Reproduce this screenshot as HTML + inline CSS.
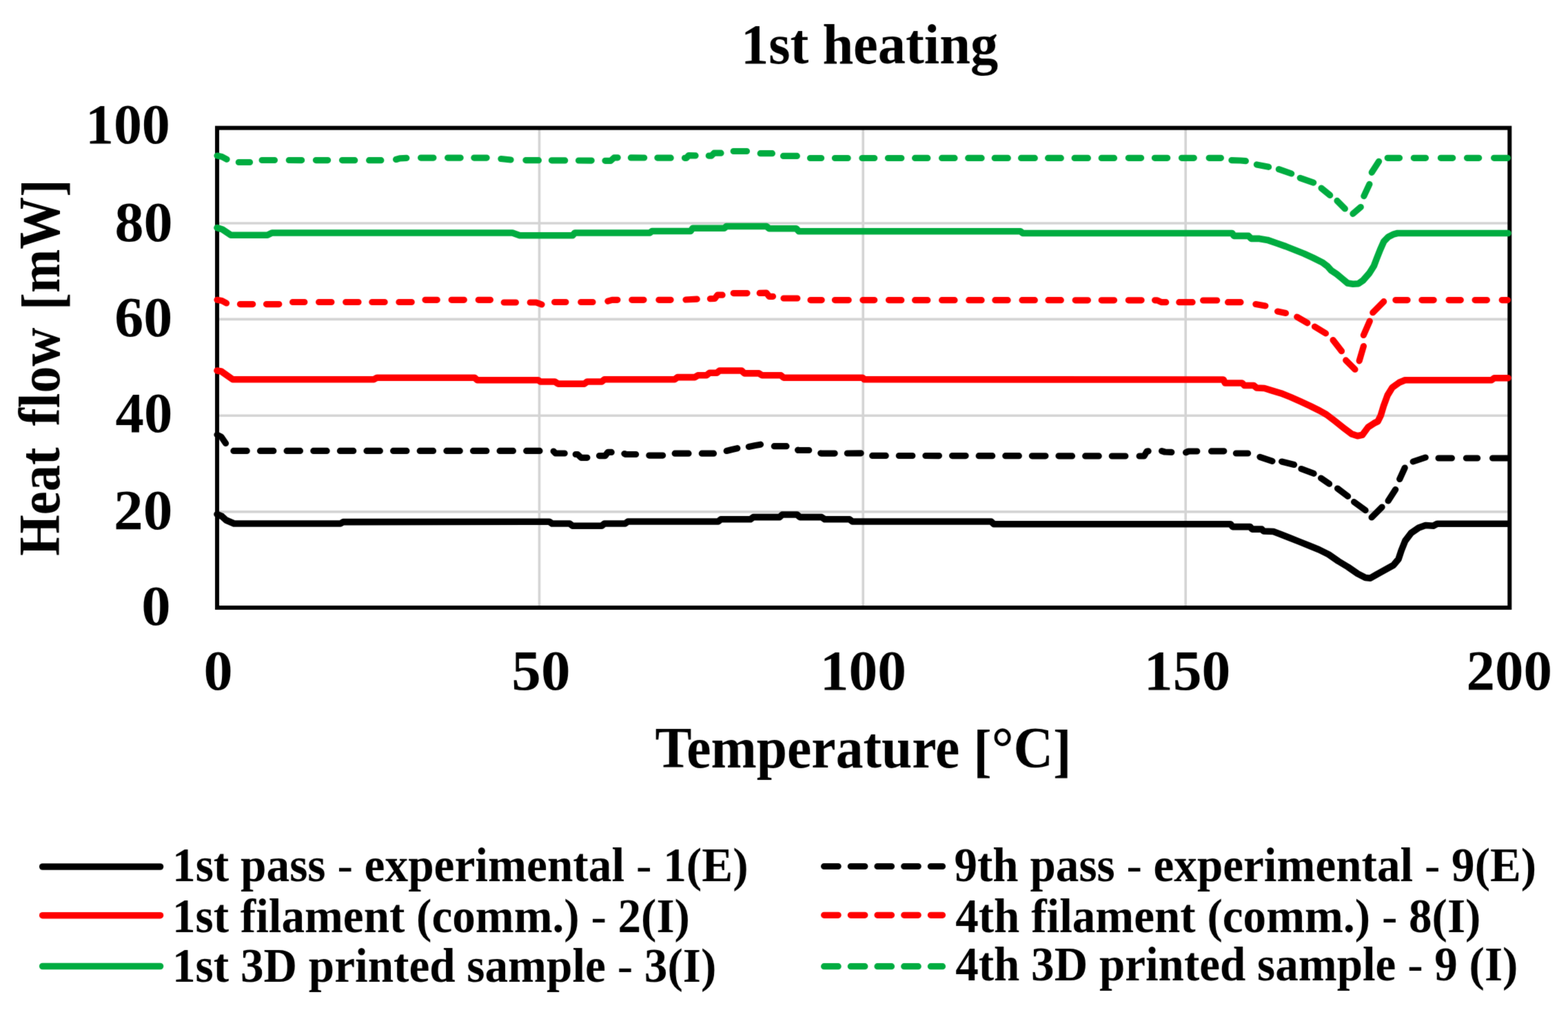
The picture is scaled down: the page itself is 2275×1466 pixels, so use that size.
<!DOCTYPE html><html><head><meta charset="utf-8"><title>1st heating</title><style>html,body{margin:0;padding:0;background:#fff;}svg{display:block;}text{font-family:"Liberation Serif", "Times New Roman", serif;font-weight:bold;fill:#000;}</style></head><body>
<svg width="2275" height="1466" viewBox="0 0 2275 1466">
<defs><filter id="soft" x="0" y="0" width="2275" height="1466" filterUnits="userSpaceOnUse" color-interpolation-filters="sRGB"><feConvolveMatrix order="3" kernelMatrix="0.0144 0.0912 0.0144 0.0912 0.5776 0.0912 0.0144 0.0912 0.0144" divisor="1" edgeMode="duplicate"/></filter></defs>
<rect x="0" y="0" width="2275" height="1466" fill="#fff"/>
<g filter="url(#soft)">
<rect x="0" y="0" width="2275" height="1466" fill="#fff"/>
<g stroke="#d4d4d4" stroke-width="3.6" fill="none"><line x1="318" y1="324" x2="2188" y2="324"/><line x1="318" y1="463.4" x2="2188" y2="463.4"/><line x1="318" y1="603.2" x2="2188" y2="603.2"/><line x1="318" y1="742.9" x2="2188" y2="742.9"/><line x1="782.5" y1="188" x2="782.5" y2="880"/><line x1="1252.2" y1="188" x2="1252.2" y2="880"/><line x1="1720.2" y1="188" x2="1720.2" y2="880"/></g>
<rect x="315" y="185.7" width="1875.3" height="696.3" fill="none" stroke="#000" stroke-width="6"/>
<g fill="none" stroke-width="9.6" stroke-linejoin="round">
<polyline points="315.0,746.4 322.0,749.5 328.0,755.0 339.6,760.0 494.0,760.0 498.0,757.6 797.0,757.2 801.0,760.0 826.5,760.0 830.7,763.3 873.0,763.3 877.0,760.0 907.0,760.0 911.0,757.0 1042.0,757.0 1046.0,753.8 1088.7,753.8 1093.0,750.6 1131.0,750.6 1135.0,747.0 1156.4,747.0 1160.6,750.6 1192.0,750.6 1196.6,753.8 1232.5,753.8 1236.7,757.0 1438.0,757.0 1442.0,760.8 1785.4,760.8 1788.4,764.6 1813.8,764.6 1816.6,768.1 1830.6,768.1 1833.4,771.0 1847.5,771.5 1857.4,775.2 1871.4,780.8 1885.5,786.4 1899.5,792.0 1913.6,797.7 1927.7,804.7 1941.7,814.5 1955.8,823.0 1969.9,832.8 1981.1,838.5 1988.2,839.2 1998.0,833.5 2012.0,825.8 2021.9,820.2 2029.0,811.7 2033.2,799.0 2038.8,785.0 2047.2,773.8 2058.5,766.0 2068.3,762.5 2079.6,763.2 2085.2,760.2 2188.0,760.2" stroke="#000" stroke-linecap="round"/>
<polyline points="315.0,538.0 321.0,539.0 337.5,550.7 542.6,550.7 547.0,548.2 688.5,548.2 692.7,551.8 781.0,551.8 784.0,554.0 805.0,554.0 809.6,557.1 847.7,557.1 852.0,554.0 873.0,554.0 877.0,550.8 978.8,550.8 983.0,547.6 1008.0,547.6 1012.6,544.8 1025.0,544.8 1029.5,541.2 1040.0,541.2 1044.0,538.0 1076.0,538.0 1080.0,541.9 1101.0,541.9 1105.6,544.8 1133.0,544.8 1137.0,548.2 1251.6,548.2 1254.0,550.8 1775.0,551.0 1777.5,556.0 1802.2,556.0 1805.5,559.5 1819.0,559.5 1823.3,563.0 1834.5,563.5 1844.4,566.6 1858.5,570.8 1872.5,576.4 1886.6,582.7 1900.6,589.1 1914.7,596.1 1924.6,601.7 1935.8,610.2 1949.9,621.4 1961.1,629.9 1969.6,632.7 1976.6,631.3 1985.0,620.0 1993.5,614.4 1999.1,611.6 2003.3,603.1 2007.5,589.1 2013.2,573.6 2020.2,562.3 2030.0,555.3 2038.5,551.8 2164.0,551.8 2168.0,548.7 2188.0,548.7" stroke="#FF0000" stroke-linecap="round"/>
<polyline points="315.0,330.6 322.7,333.0 335.0,341.2 388.0,341.2 394.6,338.0 743.5,338.0 754.0,341.8 830.7,341.8 834.0,338.0 942.8,338.0 946.0,335.5 1002.0,335.5 1005.0,331.3 1050.7,331.3 1054.0,328.5 1112.0,328.5 1116.0,331.7 1155.3,331.7 1159.0,335.7 1480.5,335.7 1484.0,338.5 1787.7,338.5 1790.3,342.4 1811.4,342.4 1815.4,346.4 1827.3,346.4 1839.0,348.4 1852.3,353.0 1865.5,357.6 1878.7,362.9 1891.9,368.1 1905.0,374.1 1918.2,380.7 1926.2,386.6 1931.4,392.5 1939.3,397.8 1947.3,404.4 1955.2,411.0 1963.0,412.3 1971.0,411.7 1977.6,407.0 1986.8,396.5 1993.4,386.0 1997.4,375.4 2002.6,362.2 2007.9,350.3 2014.5,343.7 2022.4,339.8 2027.7,338.5 2188.0,338.5" stroke="#00AC40" stroke-linecap="round"/>
<path d="M315.0,631.0 L321.0,634.0 L327.5,643.5 M338.9,654.4 L358.2,654.4 M377.5,654.4 L396.8,654.4 M416.1,654.4 L435.4,654.4 M454.8,654.4 L474.1,654.4 M493.4,654.4 L512.7,654.4 M532.0,654.4 L551.3,654.4 M570.6,654.4 L589.9,654.4 M609.2,654.4 L628.5,654.4 M647.9,654.4 L667.2,654.4 M686.5,654.4 L705.8,654.4 M725.1,654.4 L744.4,654.4 M763.7,654.4 L783.0,654.4 M803.1,655.1 L806.0,658.0 L819.2,658.0 M835.2,659.5 L838.0,659.5 L843.0,664.3 L851.9,664.3 M869.5,661.6 L878.0,661.6 L882.0,656.4 L887.2,656.4 M905.9,658.5 L908.0,659.5 L922.6,659.5 M941.8,661.1 L961.6,661.1 M979.2,658.2 L999.0,658.2 M1018.3,658.2 L1035.5,658.2 M1054.2,654.5 L1062.0,652.5 L1069.8,650.7 M1086.4,648.4 L1096.0,646.5 L1103.5,645.2 M1123.3,647.7 L1141.0,647.7 M1157.6,653.2 L1158.0,653.5 L1173.7,653.5 M1190.8,657.8 L1192.0,658.2 L1211.1,658.1 M1229.3,658.0 L1249.1,657.8 M1265.7,661.4 L1285.2,661.4 M1304.3,661.5 L1323.8,661.5 M1342.9,661.5 L1362.4,661.6 M1381.6,661.6 L1401.1,661.6 M1420.2,661.7 L1439.7,661.7 M1458.8,661.7 L1478.3,661.7 M1497.4,661.8 L1516.9,661.8 M1536.0,661.8 L1555.5,661.9 M1574.7,661.9 L1594.2,661.9 M1613.3,662.0 L1632.8,662.0 M1653.1,662.0 L1660.0,662.0 L1664.0,655.0 L1666.1,654.8 M1685.6,654.6 L1690.0,656.0 L1699.8,656.3 M1720.6,656.8 L1724.5,655.0 L1736.8,655.0 M1757.6,654.9 L1775.8,654.8 M1793.4,658.0 L1810.6,658.0 M1828.0,663.3 L1846.0,669.3 M1859.6,670.0 L1877.6,674.5 M1888.0,680.5 L1906.1,687.3 M1916.6,694.0 L1928.6,702.3 M1940.6,709.0 L1955.6,720.3 M1964.6,728.6 L1981.1,740.6 M1990.1,751.0 L2005.1,736.0 M2014.1,727.0 L2024.7,710.5 M2030.7,695.5 L2038.2,679.0 M2050.2,670.0 L2068.2,664.0 M2087.1,665.0 L2106.4,665.0 M2127.4,665.0 L2143.6,665.0 M2165.6,665.0 L2187.4,665.0" stroke="#000" stroke-width="9.2" stroke-linecap="round"/>
<path d="M315.0,435.3 L322.0,436.5 L328.5,440.0 M348.4,441.6 L366.7,441.6 M386.5,441.6 L404.8,441.6 M424.6,438.5 L441.8,438.5 M462.6,438.5 L480.9,438.5 M501.7,438.5 L520.0,438.5 M539.8,438.5 L558.1,438.5 M578.9,438.5 L597.2,438.5 M617.0,435.3 L634.2,435.3 M655.1,435.3 L673.3,435.3 M694.2,435.3 L711.4,435.3 M731.2,439.0 L748.4,439.0 M769.2,439.0 L778.0,439.0 L786.0,442.0 M804.6,438.5 L820.9,438.5 M842.8,438.5 L860.0,438.5 M881.9,437.1 L888.0,435.3 L895.9,435.3 M916.8,435.3 L934.0,435.3 M955.9,435.3 L973.1,435.3 M995.0,435.0 L1011.2,434.2 M1030.4,433.7 L1037.0,433.5 L1041.0,428.2 L1048.1,428.2 M1064.2,425.6 L1084.0,425.6 M1102.2,425.4 L1112.0,425.2 L1116.0,430.3 L1121.5,430.3 M1137.0,433.0 L1156.8,433.0 M1176.0,435.6 L1192.2,435.6 M1211.4,435.6 L1231.2,435.6 M1251.9,435.6 L1268.7,435.6 M1289.5,435.6 L1307.8,435.7 M1327.6,435.7 L1345.8,435.7 M1366.6,435.7 L1385.0,435.7 M1405.8,435.7 L1424.1,435.7 M1443.9,435.7 L1462.1,435.7 M1483.0,435.7 L1501.3,435.7 M1521.0,435.7 L1539.3,435.7 M1560.2,435.8 L1578.4,435.8 M1598.2,435.8 L1616.5,435.8 M1637.3,435.8 L1656.1,435.8 M1675.6,435.8 L1679.0,435.8 L1685.0,438.7 L1691.7,438.7 M1710.8,438.7 L1730.1,438.7 M1745.6,436.0 L1765.7,436.0 M1781.6,438.7 L1800.0,438.7 M1821.9,441.5 L1835.9,444.0 M1853.6,452.0 L1865.5,454.5 M1881.8,460.0 L1896.9,468.8 M1907.5,474.1 L1923.5,483.9 M1934.1,493.6 L1946.5,509.6 M1952.7,522.9 L1966.0,536.2 M1972.2,523.8 L1978.4,502.5 M1978.4,486.5 L1987.3,466.1 M1991.8,453.7 L2007.7,437.7 M2024.9,435.6 L2042.1,435.6 M2062.9,435.6 L2080.2,435.6 M2102.1,435.6 L2119.3,435.6 M2140.1,435.6 L2157.4,435.6 M2179.2,435.6 L2187.4,435.6" stroke="#FF0000" stroke-width="9.2" stroke-linecap="round"/>
<path d="M315.0,226.0 L322.0,227.5 L329.0,231.2 M346.3,235.5 L362.5,235.5 M380.1,232.5 L398.4,232.5 M419.3,232.5 L437.6,232.6 M458.4,232.6 L475.6,232.6 M496.5,232.6 L514.7,232.7 M535.6,232.7 L552.8,232.7 M574.6,231.5 L580.0,229.8 L589.8,229.3 M610.6,229.1 L628.9,229.1 M649.6,229.1 L668.1,229.1 M687.8,229.1 L706.1,229.1 M726.9,230.5 L741.0,232.0 M762.9,232.6 L781.4,232.7 M800.4,232.8 L819.7,232.9 M839.5,233.0 L858.2,233.1 M878.0,233.3 L886.0,233.3 L891.0,228.8 L896.2,228.8 M915.4,228.9 L934.7,229.0 M953.9,229.1 L973.2,229.2 M993.5,229.3 L996.0,229.3 L999.0,225.7 L1009.1,225.9 M1028.3,226.1 L1032.0,226.2 L1036.0,222.2 L1046.0,222.2 M1064.2,219.5 L1083.5,219.5 M1103.2,222.7 L1120.4,222.7 M1136.5,226.4 L1156.3,226.4 M1175.5,229.5 L1191.6,229.5 M1211.4,229.5 L1230.1,229.5 M1250.9,229.5 L1268.7,229.5 M1288.4,229.5 L1307.8,229.5 M1327.6,229.4 L1345.8,229.4 M1366.6,229.4 L1385.0,229.4 M1404.7,229.4 L1424.1,229.4 M1443.2,229.4 L1462.3,229.4 M1481.6,229.4 L1501.3,229.4 M1520.6,229.4 L1539.3,229.4 M1559.1,229.4 L1578.4,229.4 M1598.2,229.4 L1616.5,229.4 M1637.3,229.3 L1655.6,229.3 M1675.4,229.3 L1693.7,229.3 M1714.5,229.3 L1732.3,229.3 M1754.2,229.3 L1771.4,229.3 M1786.9,232.6 L1800.0,233.0 L1807.4,233.7 M1823.4,238.9 L1840.6,242.3 M1855.4,245.7 L1873.7,252.0 M1886.3,258.3 L1905.7,265.1 M1917.1,273.1 L1929.7,283.4 M1940.0,291.4 L1951.4,302.9 M1962.9,310.3 L1974.3,300.6 M1978.9,284.6 L1986.9,267.4 M1990.3,250.3 L2000.6,234.3 M2013.2,229.3 L2030.5,229.3 M2051.3,229.3 L2068.5,229.3 M2090.4,229.3 L2107.7,229.3 M2128.5,229.3 L2145.7,229.3 M2167.6,229.3 L2187.4,229.3" stroke="#00AC40" stroke-width="9.2" stroke-linecap="round"/>
</g>
<text x="1074.96" y="92.00" font-size="81.5" textLength="373.18" lengthAdjust="spacingAndGlyphs">1st heating</text>
<text x="123.95" y="207.78" font-size="82.07" textLength="122.82" lengthAdjust="spacingAndGlyphs">100</text>
<text x="166.47" y="349.97" font-size="82.96" textLength="84.09" lengthAdjust="spacingAndGlyphs">80</text>
<text x="166.26" y="488.07" font-size="82.52" textLength="83.99" lengthAdjust="spacingAndGlyphs">60</text>
<text x="167.57" y="626.88" font-size="82.07" textLength="82.63" lengthAdjust="spacingAndGlyphs">40</text>
<text x="164.97" y="768.37" font-size="82.96" textLength="85.33" lengthAdjust="spacingAndGlyphs">20</text>
<text x="205.22" y="907.37" font-size="83.26" textLength="42.35" lengthAdjust="spacingAndGlyphs">0</text>
<text x="295.64" y="1000.67" font-size="82.52" textLength="42.12" lengthAdjust="spacingAndGlyphs">0</text>
<text x="742.39" y="1000.67" font-size="82.52" textLength="85.20" lengthAdjust="spacingAndGlyphs">50</text>
<text x="1189.83" y="1000.67" font-size="82.52" textLength="125.10" lengthAdjust="spacingAndGlyphs">100</text>
<text x="1659.80" y="1000.67" font-size="82.52" textLength="125.64" lengthAdjust="spacingAndGlyphs">150</text>
<text x="2127.57" y="1000.67" font-size="82.52" textLength="124.44" lengthAdjust="spacingAndGlyphs">200</text>
<text x="950.51" y="1114.40" font-size="84.5" textLength="604.00" lengthAdjust="spacingAndGlyphs">Temperature <tspan dy="4">[</tspan><tspan dy="-4">°C<tspan dy="4">]</tspan><tspan dy="-4"></tspan></tspan></text>
<g transform="rotate(-90)"><text x="-806.84" y="86.30" font-size="84.4" textLength="157.30" lengthAdjust="spacingAndGlyphs">Heat</text><text x="-618.18" y="86.30" font-size="84.4" textLength="142.72" lengthAdjust="spacingAndGlyphs">flow</text><text x="-450.30" y="86.30" font-size="84.4" textLength="189.93" lengthAdjust="spacingAndGlyphs"><tspan dy="4">[</tspan><tspan dy="-4">mW<tspan dy="4">]</tspan><tspan dy="-4"></tspan></tspan></text></g>
<line x1="61.7" y1="1258.0" x2="232.5" y2="1258.0" stroke="#000" stroke-width="9.6" stroke-linecap="round"/>
<text x="250.02" y="1279.00" font-size="69" textLength="835.56" lengthAdjust="spacingAndGlyphs">1st pass <tspan font-weight="normal">-</tspan> experimental <tspan font-weight="normal">-</tspan> 1(E)</text>
<line x1="61.7" y1="1328.7" x2="232.5" y2="1328.7" stroke="#FF0000" stroke-width="9.6" stroke-linecap="round"/>
<text x="250.03" y="1353.30" font-size="69" textLength="750.89" lengthAdjust="spacingAndGlyphs">1st filament (comm.) <tspan font-weight="normal">-</tspan> 2(I)</text>
<line x1="61.7" y1="1402.5" x2="232.5" y2="1402.5" stroke="#00AC40" stroke-width="9.6" stroke-linecap="round"/>
<text x="250.03" y="1424.50" font-size="69" textLength="789.31" lengthAdjust="spacingAndGlyphs">1st 3D printed sample <tspan font-weight="normal">-</tspan> 3(I)</text>
<line x1="1195.6" y1="1257.5" x2="1367.5" y2="1257.5" stroke="#000" stroke-width="9.2" stroke-linecap="round" stroke-dasharray="20.5 18.2"/>
<text x="1384.45" y="1278.80" font-size="69" textLength="844.68" lengthAdjust="spacingAndGlyphs">9th pass <tspan font-weight="normal">-</tspan> experimental <tspan font-weight="normal">-</tspan> 9(E)</text>
<line x1="1195.6" y1="1328.3" x2="1367.5" y2="1328.3" stroke="#FF0000" stroke-width="9.2" stroke-linecap="round" stroke-dasharray="20.5 18.2"/>
<text x="1386.16" y="1352.50" font-size="69" textLength="762.23" lengthAdjust="spacingAndGlyphs">4th filament (comm.) <tspan font-weight="normal">-</tspan> 8(I)</text>
<line x1="1195.6" y1="1402.7" x2="1367.5" y2="1402.7" stroke="#00AC40" stroke-width="9.2" stroke-linecap="round" stroke-dasharray="20.5 18.2"/>
<text x="1386.16" y="1423.10" font-size="69" textLength="816.24" lengthAdjust="spacingAndGlyphs">4th 3D printed sample <tspan font-weight="normal">-</tspan> 9 (I)</text>
</g>
</svg></body></html>
